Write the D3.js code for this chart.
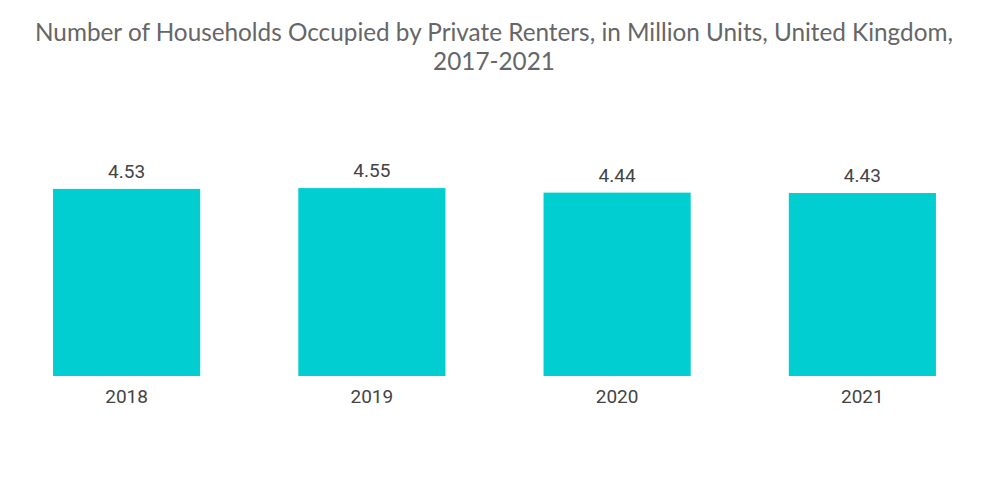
<!DOCTYPE html>
<html>
<head>
<meta charset="utf-8">
<script src="https://cdn.jsdelivr.net/npm/d3@7"></script>
<style>
  body { margin: 0; background: #fff; }
  .title { font-family: Lato, "Open Sans", sans-serif; font-size: 24.3px; fill: #666; }
  .val, .tick text { font-family: Roboto, sans-serif; font-size: 19px; fill: #444; }
</style>
</head>
<body>
<svg id="chart" width="1000" height="504"></svg>
<script>
var years = ['2018', '2019', '2020', '2021'];
var renters = [4.53, 4.55, 4.44, 4.43];

var svg = d3.select('#chart');
var baseY = 376, pxPerUnit = 41.3;

// title, two lines
var title = svg.append('text').attr('class', 'title').attr('text-anchor', 'middle');
title.append('tspan').attr('x', 494).attr('y', 41)
  .text('Number of Households Occupied by Private Renters, in Million Units, United Kingdom,');
title.append('tspan').attr('x', 494).attr('y', 70).text('2017-2021');

var x = d3.scaleBand().domain(years).range([4, 985]).paddingInner(0.4).paddingOuter(0.2);
var y = d3.scaleLinear().domain([0, 5]).range([baseY, baseY - 5 * pxPerUnit]);

svg.selectAll('rect.bar').data(years).enter().append('rect')
  .attr('class', 'bar')
  .attr('x', function(d) { return x(d); })
  .attr('width', x.bandwidth())
  .attr('y', function(d, i) { return y(renters[i]); })
  .attr('height', function(d, i) { return baseY - y(renters[i]); })
  .attr('fill', '#00CED1');

svg.selectAll('text.val').data(years).enter().append('text')
  .attr('class', 'val')
  .attr('text-anchor', 'middle')
  .attr('x', function(d) { return x(d) + x.bandwidth() / 2; })
  .attr('y', function(d, i) { return y(renters[i]) - 11; })
  .text(function(d, i) { return renters[i].toFixed(2); });

var axis = svg.append('g').attr('transform', 'translate(0,' + baseY + ')')
  .call(d3.axisBottom(x).tickSize(0).tickPadding(14));
axis.select('.domain').remove();
axis.selectAll('.tick text').attr('dy', '0.71em');
</script>
</body>
</html>
